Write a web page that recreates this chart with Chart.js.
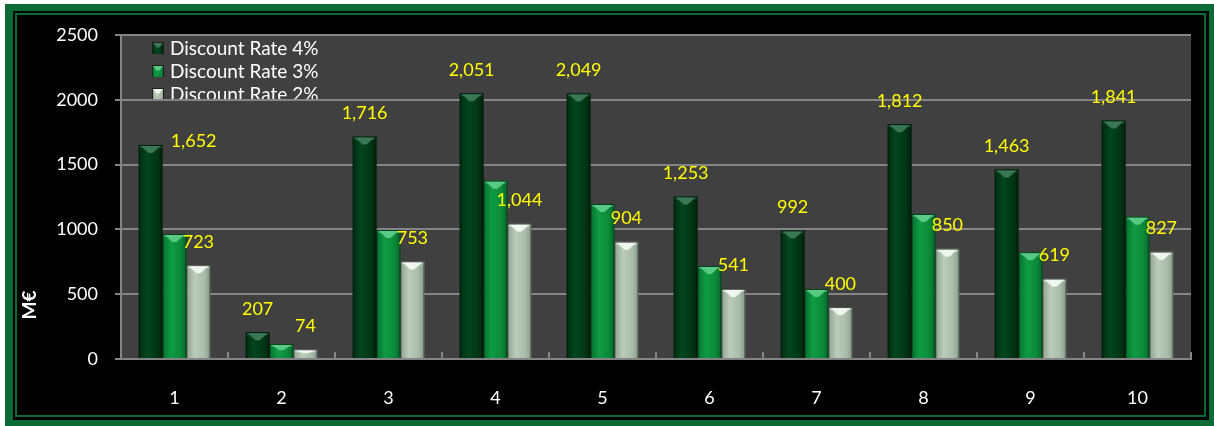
<!DOCTYPE html>
<html>
<head>
<meta charset="utf-8">
<title>Discount rate chart</title>
<script src="https://cdn.jsdelivr.net/npm/chart.js@4.4.1/dist/chart.umd.min.js"></script>
<style>
  body { margin: 0; background: #fff; width: 1214px; height: 426px; overflow: hidden; position: relative; }
  #frame {
    position: absolute; left: 5px; top: 4px; right: 0; bottom: 0;
    border: solid #0b6b35; border-width: 7px 5px 6px 8px;
    background: #000;
  }
  #frame .inner { position: absolute; left: 2px; top: 2px; right: 3px; bottom: 3px; border: 2px solid #0b6b35; }
  #chart { position: absolute; left: 0; top: 0; z-index: 1; }
</style>
</head>
<body>
<div id="frame"><div class="inner"></div></div>
<canvas id="chart" width="1214" height="426"></canvas>
<script>
var categories = ["1", "2", "3", "4", "5", "6", "7", "8", "9", "10"];
var seriesNames = ["Discount Rate 4%", "Discount Rate 3%", "Discount Rate 2%"];
var rate4 = [1652, 207, 1716, 2051, 2049, 1253, 992, 1812, 1463, 1841];
var rate3 = [964, 116, 995, 1376, 1196, 718, 540, 1119, 823, 1098];
var rate2 = [723, 74, 753, 1044, 904, 541, 400, 850, 619, 827];
var yTicks = [0, 500, 1000, 1500, 2000, 2500];

// which series print their values above the bars
var showValues = [true, false, true];

var FONT = "Lato";
var gridGray = "#858585";

// per-series look: flat fill, body gradient stops, bevel cap colour
var barLooks = [
  { fill: "#013a18", stops: ["#002b10", "#01461e", "#013616", "#00220c"], cap: "#3f7d5c" },
  { fill: "#0b8a3a", stops: ["#077030", "#0f9c43", "#0c8a3a", "#066428"], cap: "#5fcf8c" },
  { fill: "#aabdaa", stops: ["#8ea28e", "#bccbbc", "#a9bba9", "#879b87"], cap: "#f4fbf4" }
];

function bodyGradient(ctx, l, r, look) {
  var g = ctx.createLinearGradient(l, 0, r, 0);
  g.addColorStop(0, look.stops[0]);
  g.addColorStop(0.35, look.stops[1]);
  g.addColorStop(0.75, look.stops[2]);
  g.addColorStop(1, look.stops[3]);
  return g;
}

function drawBevelBar(ctx, l, r, top, bottom, look) {
  var w = r - l, h = bottom - top;
  ctx.fillStyle = "rgba(0,0,0,0.55)";
  ctx.fillRect(l, top, w, h);
  ctx.fillStyle = bodyGradient(ctx, l, r, look);
  ctx.fillRect(l + 1, top + 1, w - 2, h - 1);
  var capH = Math.min(8, h * 0.45);
  var cx = (l + r) / 2;
  ctx.fillStyle = look.cap;
  ctx.globalAlpha = 0.9;
  ctx.beginPath();
  ctx.moveTo(l + 2, top + 1);
  ctx.lineTo(r - 2, top + 1);
  ctx.lineTo(cx + 2, top + capH);
  ctx.lineTo(cx - 2, top + capH);
  ctx.closePath();
  ctx.fill();
  ctx.globalAlpha = 0.35;
  ctx.fillRect(l + 1, top + 1, w - 2, 2);
  ctx.globalAlpha = 1;
}

var plotBackground = {
  id: "plotBackground",
  beforeDraw: function (chart) {
    var a = chart.chartArea, ctx = chart.ctx;
    ctx.save();
    ctx.fillStyle = "#404040";
    ctx.fillRect(a.left, a.top, a.right - a.left, a.bottom - a.top);

    // legend sits in the plot, under the gridlines
    ctx.font = "19px " + FONT;
    ctx.textBaseline = "alphabetic";
    chart.data.datasets.forEach(function (ds, i) {
      var cy = 48 + i * 23;
      drawBevelBar(ctx, 152, 164, cy - 6, cy + 6, barLooks[i]);
      ctx.fillStyle = "#fff";
      ctx.fillText(ds.label, 170, cy + 7);
    });
    ctx.restore();
  }
};

var bevelBars = {
  id: "bevelBars",
  afterDatasetsDraw: function (chart) {
    var ctx = chart.ctx;
    ctx.save();
    chart.data.datasets.forEach(function (ds, i) {
      chart.getDatasetMeta(i).data.forEach(function (bar) {
        var p = bar.getProps(["x", "y", "base", "width"], true);
        drawBevelBar(ctx, p.x - p.width / 2, p.x + p.width / 2, p.y, p.base, barLooks[i]);
      });
    });

    // value labels
    ctx.font = "18px " + FONT;
    ctx.fillStyle = "#ffff00";
    ctx.textAlign = "center";
    ctx.textBaseline = "alphabetic";
    chart.data.datasets.forEach(function (ds, i) {
      if (!showValues[i]) return;
      chart.getDatasetMeta(i).data.forEach(function (bar, j) {
        var p = bar.getProps(["x", "y"], true);
        var lx = p.x, ly = p.y - 17.5;
        if (i === 0 && j === 0) { lx += 43; ly = p.y + 2.5; } // first label moved clear of the legend
        ctx.fillText(ds.data[j].toLocaleString("en-US"), lx, ly);
      });
    });
    ctx.restore();
  }
};

var axisExtras = {
  id: "axisExtras",
  afterDraw: function (chart) {
    var ctx = chart.ctx, a = chart.chartArea, xs = chart.scales.x;
    ctx.save();
    // small inward ticks between categories
    ctx.strokeStyle = gridGray;
    ctx.lineWidth = 2;
    for (var i = 0; i <= categories.length; i++) {
      var px;
      if (i === 0) px = a.left;
      else if (i === categories.length) px = a.right;
      else px = (xs.getPixelForValue(i - 1) + xs.getPixelForValue(i)) / 2;
      ctx.beginPath();
      ctx.moveTo(px, a.bottom);
      ctx.lineTo(px, a.bottom - 7);
      ctx.stroke();
    }
    // y axis title
    ctx.translate(30, 305);
    ctx.rotate(-Math.PI / 2);
    ctx.font = "bold 19px " + FONT;
    ctx.fillStyle = "#fff";
    ctx.textAlign = "center";
    ctx.textBaseline = "middle";
    ctx.fillText("M€", 0, 0);
    ctx.restore();
  }
};

new Chart("chart", {
  type: "bar",
  data: {
    labels: categories,
    datasets: [
      { label: seriesNames[0], data: rate4, backgroundColor: barLooks[0].fill },
      { label: seriesNames[1], data: rate3, backgroundColor: barLooks[1].fill },
      { label: seriesNames[2], data: rate2, backgroundColor: barLooks[2].fill }
    ]
  },
  options: {
    responsive: false,
    animation: false,
    layout: { padding: { left: 0, top: 35, right: 23, bottom: 0 } },
    datasets: { bar: { categoryPercentage: 0.67, barPercentage: 1 } },
    plugins: { legend: { display: false }, tooltip: { enabled: false } },
    scales: {
      x: {
        grid: { display: true, drawOnChartArea: false, drawTicks: false },
        border: { display: true, color: gridGray, width: 2 },
        ticks: { color: "#fff", font: { family: FONT, size: 18 }, padding: 28 },
        afterFit: function (scale) { scale.height = 67; }
      },
      y: {
        min: 0,
        max: 2500,
        afterBuildTicks: function (scale) {
          scale.ticks = yTicks.map(function (v) { return { value: v }; });
        },
        grid: { color: gridGray, lineWidth: 2, tickLength: 6 },
        border: { display: true, color: gridGray, width: 2 },
        ticks: {
          color: "#fff",
          font: { family: FONT, size: 18 },
          padding: 17,
          callback: function (v) { return String(v); }
        },
        afterFit: function (scale) { scale.width = 121; }
      }
    }
  },
  plugins: [plotBackground, bevelBars, axisExtras]
});
</script>
</body>
</html>
